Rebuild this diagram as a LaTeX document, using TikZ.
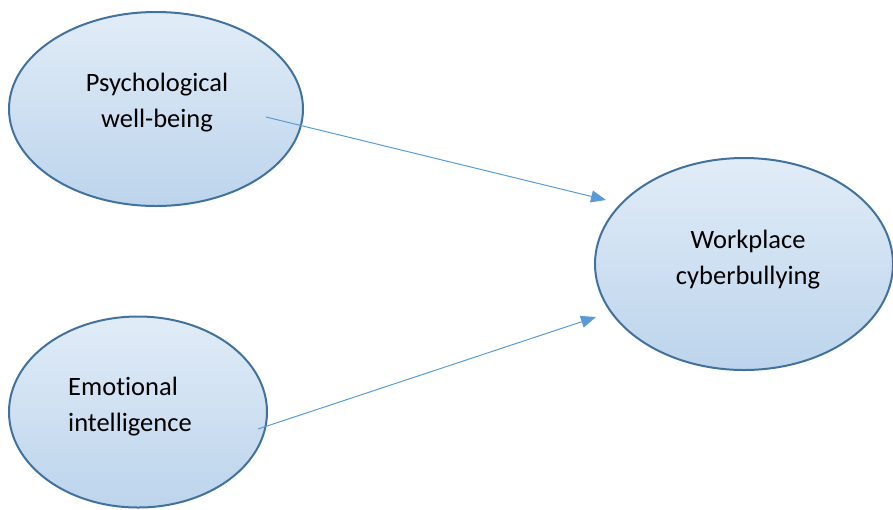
\documentclass[tikz,border=0pt]{standalone}
\usepackage{fontspec}
\setmainfont{Carlito}[Ligatures=NoCommon]
\usetikzlibrary{shapes.geometric,arrows.meta}

\definecolor{rimblue}{HTML}{41719C}
\definecolor{linkblue}{HTML}{5B9BD5}
\definecolor{fadetop}{HTML}{F3F8FD}
\definecolor{fadelow}{HTML}{B0CCE8}
\definecolor{fadeend}{HTML}{C2D8EE}
\pgfdeclareverticalshading{bubble}{100bp}{color(0bp)=(fadeend); color(8bp)=(fadelow); color(100bp)=(fadetop)}

\tikzset{
  factor/.style={ellipse, draw=rimblue, line width=2pt, shading=bubble, inner sep=0pt},
  caption/.style={inner sep=0pt, font=\fontsize{26.5}{36}\selectfont},
  link/.style={draw=linkblue, line width=1pt, arrows={-Triangle[length=15pt,width=12pt]}}
}

\begin{document}
\begin{tikzpicture}[x=1pt,y=-1pt]
\useasboundingbox (0,0) rectangle (893,509);

% constructs:
\path (156,109) node[factor, minimum width=294pt, minimum height=194pt] (pwb) {};
\path (138,412) node[factor, minimum width=258pt, minimum height=191pt] (emi) {};
\path (744,264) node[factor, minimum width=298pt, minimum height=212pt] (wcb) {};

% labels:
\path (pwb.center) ++(1,-6) node[caption, align=center] (pwbtext) {Psychological\\well-being};
\path (emi.center) ++(-70,-5) node[caption, align=left, anchor=west] (emitext) {Emotional\\intelligence};
\path (wcb.center) ++(4,-4) node[caption, align=center] (wcbtext) {Workplace\\cyberbullying};

% paths:
\coordinate (pwbout) at (266,117);
\coordinate (emiout) at (258,429);
\coordinate (wcbin1) at (606,200);
\coordinate (wcbin2) at (596,317);
\draw[link] (pwbout) -- (wcbin1);
\draw[link] (emiout) -- (wcbin2);

\end{tikzpicture}
\end{document}
